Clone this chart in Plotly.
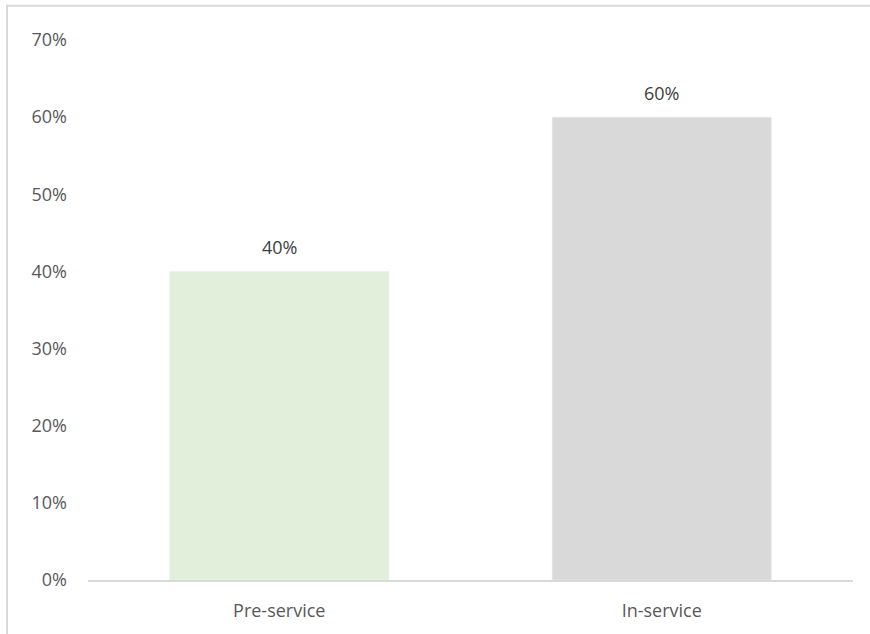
import plotly.graph_objects as go

categories = ["Pre-service", "In-service"]
values = [0.40, 0.60]
colors = ["#E2EFDA", "#D9D9D9"]
labels = ["40%", "60%"]

W, H = 870, 634
L, R, T, B = 88, 17, 40, 52
pw, ph = W - L - R, H - T - B

fig = go.Figure(go.Bar(
    x=categories, y=values, marker_color=colors, width=0.573,
    hoverinfo="skip",
))

for c, v, t in zip(categories, values, labels):
    fig.add_annotation(x=c, y=v, text=t, showarrow=False, yshift=24,
                       font=dict(color="#404040", size=18))

def px2x(p):
    return (p - L) / pw

def py2y(p):
    return (H - B - p) / ph

fig.add_shape(type="line", xref="paper", yref="paper",
              x0=px2x(7), x1=px2x(7), y0=py2y(5.5), y1=py2y(700),
              line=dict(color="#D9D9D9", width=2))
fig.add_shape(type="line", xref="paper", yref="paper",
              x0=px2x(6), x1=px2x(900), y0=py2y(5.5), y1=py2y(5.5),
              line=dict(color="#D9D9D9", width=2))

fig.update_layout(
    width=W, height=H, margin=dict(l=L, r=R, t=T, b=B),
    plot_bgcolor="white", paper_bgcolor="white",
    font=dict(family="Open Sans, Liberation Sans, sans-serif", color="#595959", size=18),
    showlegend=False,
    bargap=0.427,
    yaxis=dict(range=[0, 0.70], tickvals=[0, 0.1, 0.2, 0.3, 0.4, 0.5, 0.6, 0.7],
               tickformat=".0%", showgrid=False, zeroline=False, showline=False,
               ticks="", ticklabelstandoff=20),
    xaxis=dict(showline=True, linecolor="#D9D9D9", linewidth=1.5, ticks="",
               showgrid=False, ticklabelstandoff=14),
)

fig.write_html("out.html")
